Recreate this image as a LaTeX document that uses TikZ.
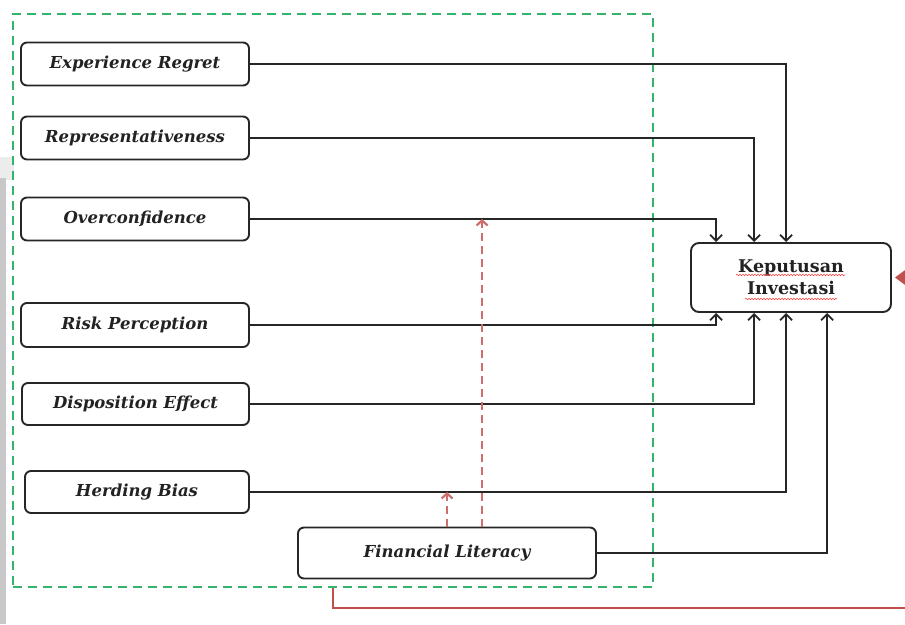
\documentclass[tikz,border=0pt]{standalone}
\usepackage{fontspec}
\setmainfont{DejaVu Serif}
\usetikzlibrary{arrows.meta,fit,decorations.pathmorphing}
\definecolor{grpgreen}{RGB}{52,180,106}
\definecolor{modred}{RGB}{192,80,77}
\definecolor{modredlt}{RGB}{205,110,110}
\definecolor{txt}{RGB}{34,34,34}
\definecolor{strip}{RGB}{200,200,200}
\definecolor{striplt}{RGB}{236,236,236}
\begin{document}
\begin{tikzpicture}[x=1pt,y=-1pt,
  varbox/.style={draw=black!85, line width=1.9pt, rounded corners=6pt, fill=white,
    inner sep=0pt, text=txt, font=\fontsize{16.5}{19}\selectfont\bfseries\itshape},
  depbox/.style={draw=black!85, line width=1.9pt, rounded corners=8pt, fill=white,
    inner sep=0pt, text=txt, align=center, font=\fontsize{17.5}{22}\selectfont\bfseries},
  conn/.style={draw=black!85, line width=1.8pt, -{Straight Barb[length=6pt,width=12pt,line width=1.8pt]}},
  modarrow/.style={draw=modredlt, line width=2.3pt, dash pattern=on 8pt off 5pt,
    -{Straight Barb[length=5pt,width=11pt,line width=2.2pt]}},
  grpbox/.style={draw=grpgreen, line width=2.4pt, dash pattern=on 9pt off 6pt, inner sep=0pt},
  modline/.style={draw=modred, line width=2.4pt, -{Triangle[length=12pt,width=17pt]}},
  spell/.style={draw=red!75, line width=0.6pt, decorate,
    decoration={snake, amplitude=0.7pt, segment length=3pt}}
]
\useasboundingbox (0,0) rectangle (905,624);
\fill[white] (0,0) rectangle (905,624);
% screenshot edge strip
\fill[striplt] (0,157) rectangle (14,180);
\fill[strip] (0,178) rectangle (6,624);

% group box
\node[grpbox, minimum width=640pt, minimum height=573pt] (grp) at (333,300.5) {};

% variable boxes
\node[varbox, minimum width=228pt, minimum height=43pt] (er)   at (135,64)  {Experience Regret};
\node[varbox, minimum width=228pt, minimum height=43pt] (rep)  at (135,138) {Representativeness};
\node[varbox, minimum width=228pt, minimum height=43pt] (over) at (135,219) {Overconfidence};
\node[varbox, minimum width=228pt, minimum height=44pt] (risk) at (135,325)   {Risk Perception};
\node[varbox, minimum width=227pt, minimum height=42pt] (disp) at (135.5,404) {Disposition Effect};
\node[varbox, minimum width=224pt, minimum height=42pt] (herd) at (137,492)   {Herding Bias};
\node[varbox, minimum width=298pt, minimum height=51pt] (fl)   at (447,553) {Financial Literacy};

% dependent
\node[depbox, minimum width=200pt, minimum height=69pt] (ki) at (791,277.5) {Keputusan\\Investasi};
\draw[spell] (736,275) -- (845,275);
\draw[spell] (745,299) -- (837,299);

% connectors to the dependent variable
\draw[conn] (er.east)   -| ([xshift=96pt]ki.north west);
\draw[conn] (rep.east)  -| ([xshift=64pt]ki.north west);
\draw[conn] (over.east) -| ([xshift=26pt]ki.north west);
\draw[conn] (risk.east) -| ([xshift=26pt]ki.south west);
\draw[conn] (disp.east) -| ([xshift=64pt]ki.south west);
\draw[conn] (herd.east) -| ([xshift=96pt]ki.south west);
\draw[conn] (fl.east)   -| ([xshift=137pt]ki.south west);

% moderation (dashed red)
\draw[modarrow] ([xshift=185pt]fl.north west) -- ([xshift=185pt]fl.north west |- over.east);
\draw[modarrow] ([xshift=150pt]fl.north west) -- ([xshift=150pt]fl.north west |- herd.east);

% red line from group to dependent variable
\coordinate (rbend) at (916,608);
\draw[modline, shorten >=3pt] (grp.south) |- (rbend) |- (ki.east);
\end{tikzpicture}
\end{document}
